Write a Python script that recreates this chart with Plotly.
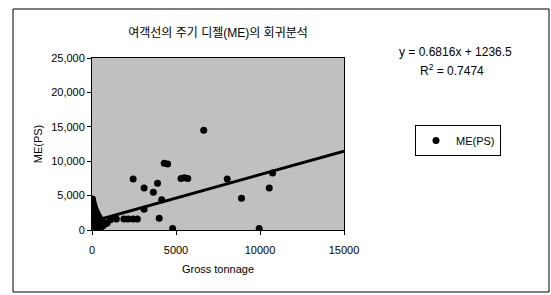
import plotly.graph_objects as go

# ---- data ----
gross_tonnage = [
    6650, 4300, 4500, 2450, 3100, 3650, 3900, 5300, 5500, 5700,
    4150, 3100, 4000, 8050, 8900, 10550, 10750, 4800, 9950,
    1100, 1450, 1900, 2150, 2450, 2700,
    30, 50, 80, 120, 150, 200, 250, 300, 350, 400,
    450, 500, 60, 100, 180, 220, 280, 320, 380, 420,
    40, 90, 140, 260, 340, 480, 550, 600, 700, 800,
    70, 130, 170, 230, 310, 390, 460, 520, 650, 900,
]
me_ps = [
    14500, 9700, 9600, 7400, 6100, 5500, 6800, 7500, 7600, 7500,
    4400, 3000, 1700, 7400, 4600, 6100, 8300, 200, 200,
    1500, 1600, 1600, 1600, 1600, 1600,
    4500, 4100, 3800, 3500, 3200, 2900, 2600, 2400, 2100, 1900,
    1700, 1500, 300, 500, 700, 900, 1100, 600, 800, 1000,
    2200, 2700, 1800, 1400, 500, 900, 1300, 700, 1100, 900,
    200, 150, 400, 250, 300, 350, 200, 400, 600, 1000,
]
slope = 0.6816
intercept = 1236.5
r_squared = 0.7474
trend_x = [0, 15000]
trend_y = [slope * v + intercept for v in trend_x]

title_text = "여객선의 주기 디젤(ME)의 회귀분석"
x_title = "Gross tonnage"
y_title = "ME(PS)"
series_name = "ME(PS)"

FONT = "Arial, 'Liberation Sans', 'Noto Sans CJK KR', sans-serif"

W, H = 551, 295
L, R, T, B = 92, 344, 58, 230  # plot area in pixels


def px(x):
    return (x - L) / (R - L)


def py(y):
    return (B - y) / (B - T)


fig = go.Figure()
fig.add_trace(go.Scatter(
    x=trend_x, y=trend_y, mode="lines",
    line=dict(color="black", width=3), showlegend=False, hoverinfo="skip"))
fig.add_trace(go.Scatter(
    x=gross_tonnage, y=me_ps, mode="markers", name=series_name,
    marker=dict(color="black", size=7, symbol="circle")))

fig.update_layout(
    width=W, height=H,
    margin=dict(l=L, r=W - R, t=T, b=H - B, autoexpand=False),
    paper_bgcolor="white", plot_bgcolor="#c0c0c0",
    font=dict(family=FONT, size=11, color="black"),
    showlegend=True,
    legend=dict(x=px(415), y=py(125), xanchor="left", yanchor="top",
                bgcolor="white", bordercolor="black", borderwidth=1,
                itemwidth=30, font=dict(size=11)),
    title=dict(text=title_text, x=px(218), xanchor="center",
               xref="paper", y=1 - 33 / H, yanchor="middle",
               font=dict(size=12)),
)
fig.update_xaxes(range=[0, 15000], tickvals=[0, 5000, 10000, 15000],
                 tickformat="d", showgrid=False, zeroline=False,
                 showline=True, linecolor="black", linewidth=1, mirror=True,
                 ticks="outside", ticklen=4, tickcolor="black",
                 ticklabelstandoff=6, automargin=False,
                 title=dict(text=x_title, standoff=10, font=dict(size=11)))
fig.update_yaxes(range=[0, 25000], tickvals=[0, 5000, 10000, 15000, 20000, 25000],
                 tickformat=",", showgrid=False, zeroline=False,
                 showline=True, linecolor="black", linewidth=1, mirror=True,
                 ticks="outside", ticklen=4, tickcolor="black",
                 automargin=False,
                 title=dict(text=y_title, standoff=6, font=dict(size=11)))

fig.add_annotation(xref="paper", yref="paper", x=px(455), y=py(52),
                   text=f"y = {slope}x + {intercept}", showarrow=False,
                   xanchor="center", yanchor="middle", font=dict(size=12))
fig.add_annotation(xref="paper", yref="paper", x=px(452), y=py(70),
                   text=f"R<sup>2</sup> = {r_squared}", showarrow=False,
                   xanchor="center", yanchor="middle", font=dict(size=12))

# outer chart frame
fig.add_shape(type="rect", xref="paper", yref="paper",
              x0=px(13), x1=px(549), y0=py(292), y1=py(9),
              line=dict(color="black", width=1), layer="below")

fig.write_html("out.html", config={"displayModeBar": False},
               post_script="document.body.style.margin='0';"
                           "document.body.style.padding='0';")
